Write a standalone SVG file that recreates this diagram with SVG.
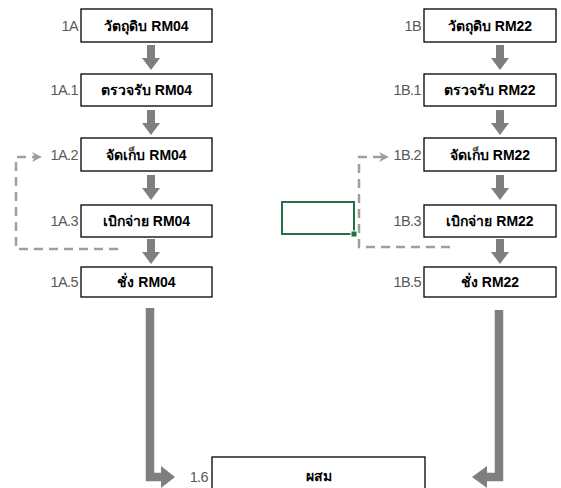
<svg xmlns="http://www.w3.org/2000/svg" width="561" height="488" viewBox="0 0 561 488">
<style>
.box{fill:#fff;stroke:#000;stroke-width:1.3}
.t{font-family:"Liberation Sans","Noto Sans",sans-serif;font-size:14px;font-weight:bold;fill:#000;text-anchor:middle}
.l{font-family:"Liberation Sans","Noto Sans",sans-serif;font-size:14.5px;fill:#595959;text-anchor:end;letter-spacing:-0.6px}
.arr{fill:#7f7f7f}
.big{fill:none;stroke:#7f7f7f;stroke-width:8.5}
.dash{fill:none;stroke:#9e9e9e;stroke-width:2.5;stroke-dasharray:9 6}
</style>
<defs>
<path id="da" d="M-4 0 H4 V13 H9 L0 25 L-9 13 H-4 Z"/>
<marker id="chev" markerWidth="12" markerHeight="12" refX="5" refY="6" orient="auto" markerUnits="userSpaceOnUse">
<path d="M0 1 L10 6 L0 11 L3 6 Z" fill="#9e9e9e"/>
</marker>
</defs>
<rect width="561" height="488" fill="#fff"/>
<g id="connectors">
<use href="#da" x="151" y="45" class="arr"/>
<use href="#da" x="151" y="110" class="arr"/>
<use href="#da" x="151" y="175" class="arr"/>
<use href="#da" x="151" y="239" class="arr"/>
<use href="#da" x="500" y="45" class="arr"/>
<use href="#da" x="500" y="110" class="arr"/>
<use href="#da" x="500" y="175" class="arr"/>
<use href="#da" x="500" y="239" class="arr"/>
<path class="dash" d="M118 249 H16 V157 H37" marker-end="url(#chev)"/>
<path class="dash" d="M450 247 H359 V157 H384" marker-end="url(#chev)"/>
<path class="big" d="M150 308 V477 H162"/>
<path class="arr" d="M161 466 L175 477 L161 488 Z"/>
<path class="big" d="M499 310 V477 H486"/>
<path class="arr" d="M487 466 L472 477 L487 488 Z"/>
</g>
<g id="n1A"><rect class="box" x="81" y="9" width="131" height="33"/><text class="t" x="146.5" y="31">วัตถุดิบ RM04</text><text class="l" x="78" y="31">1A</text></g>
<g id="n1A1"><rect class="box" x="81" y="74" width="131" height="32"/><text class="t" x="146.5" y="95">ตรวจรับ RM04</text><text class="l" x="78" y="95">1A.1</text></g>
<g id="n1A2"><rect class="box" x="81" y="138" width="131" height="33"/><text class="t" x="146.5" y="160">จัดเก็บ RM04</text><text class="l" x="78" y="160">1A.2</text></g>
<g id="n1A3"><rect class="box" x="81" y="205" width="131" height="32"/><text class="t" x="146.5" y="226">เบิกจ่าย RM04</text><text class="l" x="78" y="226">1A.3</text></g>
<g id="n1A5"><rect class="box" x="81" y="267" width="131" height="30"/><text class="t" x="146.5" y="287">ชั่ง RM04</text><text class="l" x="78" y="287">1A.5</text></g>
<g id="n1B"><rect class="box" x="424" y="9" width="132" height="33"/><text class="t" x="490" y="31">วัตถุดิบ RM22</text><text class="l" x="421" y="31">1B</text></g>
<g id="n1B1"><rect class="box" x="424" y="74" width="132" height="32"/><text class="t" x="490" y="95">ตรวจรับ RM22</text><text class="l" x="421" y="95">1B.1</text></g>
<g id="n1B2"><rect class="box" x="424" y="138" width="132" height="33"/><text class="t" x="490" y="160">จัดเก็บ RM22</text><text class="l" x="421" y="160">1B.2</text></g>
<g id="n1B3"><rect class="box" x="424" y="205" width="132" height="32"/><text class="t" x="490" y="226">เบิกจ่าย RM22</text><text class="l" x="421" y="226">1B.3</text></g>
<g id="n1B5"><rect class="box" x="424" y="267" width="132" height="30"/><text class="t" x="490" y="287">ชั่ง RM22</text><text class="l" x="421" y="287">1B.5</text></g>
<g id="n16"><rect class="box" x="212" y="457" width="213" height="40"/><text class="t" x="318.5" y="481">ผสม</text><text class="l" x="208" y="482">1.6</text></g>
<g id="sel"><rect x="282" y="202" width="72" height="32" fill="none" stroke="#217346" stroke-width="2"/><rect x="351" y="231" width="6" height="6" fill="#217346" stroke="#fff" stroke-width="1"/></g>
</svg>
